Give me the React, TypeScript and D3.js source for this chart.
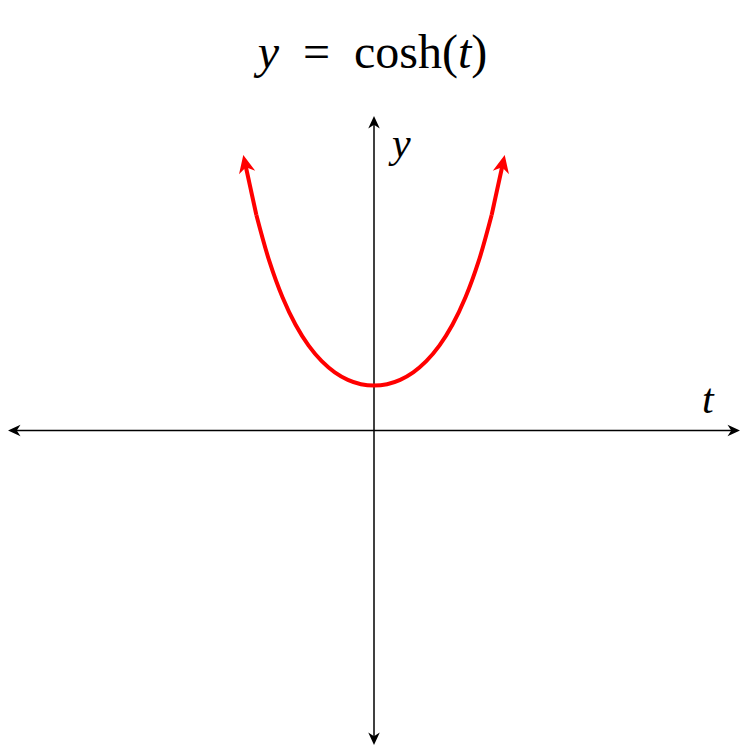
import React, { useEffect, useRef } from "react";
import * as d3 from "d3";

const tValues = [-2.5, -2.25, -2, -1.75, -1.5, -1.25, -1, -0.75, -0.5, -0.25, 0, 0.25, 0.5, 0.75, 1, 1.25, 1.5, 1.75, 2, 2.25, 2.5];
const yValues = [6.132, 4.797, 3.762, 2.964, 2.352, 1.888, 1.543, 1.295, 1.128, 1.031, 1, 1.031, 1.128, 1.295, 1.543, 1.888, 2.352, 2.964, 3.762, 4.797, 6.132];
const xDomain = [-7, 7];
const yDomain = [-7, 7];
const axisLabels = { x: "t", y: "y" };

const App = () => {
  const svgRef = useRef(null);
  useEffect(() => {
    const svg = d3.select(svgRef.current);
    svg.selectAll("*").remove();
    const width = 747;
    const xScale = d3.scaleLinear().domain(xDomain).range([8, 740]);
    const yScale = d3.scaleLinear().domain(yDomain).range([745, 116]);

    // arrow head with tip at (x, y) pointing away from (px, py)
    const arrowHead = (x, y, px, py, color, size) => {
      const angle = (Math.atan2(y - py, x - px) * 180) / Math.PI;
      svg.append("path")
        .attr("d", `M0,0 L${-10 * size},${-4.6 * size} L${-7 * size},0 L${-10 * size},${4.6 * size} Z`)
        .attr("fill", color)
        .attr("transform", `translate(${x},${y}) rotate(${angle})`);
    };

    // axes
    const x0 = xScale(0);
    const y0 = yScale(0);
    svg.append("line")
      .attr("x1", xScale(xDomain[0]) + 4)
      .attr("x2", xScale(xDomain[1]) - 4)
      .attr("y1", y0)
      .attr("y2", y0)
      .attr("stroke", "black")
      .attr("stroke-width", 1.5);
    svg.append("line")
      .attr("x1", x0)
      .attr("x2", x0)
      .attr("y1", yScale(yDomain[0]) - 4)
      .attr("y2", yScale(yDomain[1]) + 4)
      .attr("stroke", "black")
      .attr("stroke-width", 1.5);
    arrowHead(xScale(xDomain[0]), y0, x0, y0, "black", 1.25);
    arrowHead(xScale(xDomain[1]), y0, x0, y0, "black", 1.25);
    arrowHead(x0, yScale(yDomain[0]), x0, y0, "black", 1.25);
    arrowHead(x0, yScale(yDomain[1]), x0, y0, "black", 1.25);

    // curve
    const points = tValues.map((t, i) => [t, yValues[i]]);
    const line = d3.line()
      .x((d) => xScale(d[0]))
      .y((d) => yScale(d[1]))
      .curve(d3.curveCatmullRom);
    svg.append("path")
      .datum(points.slice(1, -1))
      .attr("d", line)
      .attr("fill", "none")
      .attr("stroke", "red")
      .attr("stroke-width", 4);
    // last segments shortened under the arrow heads
    const n = points.length;
    const ends = [
      [points[0], points[1]],
      [points[n - 1], points[n - 2]],
    ];
    ends.forEach(([tip, prev]) => {
      const tx = xScale(tip[0]);
      const ty = yScale(tip[1]);
      const px = xScale(prev[0]);
      const py = yScale(prev[1]);
      const len = Math.hypot(tx - px, ty - py);
      const k = (len - 10) / len;
      svg.append("line")
        .attr("x1", px)
        .attr("y1", py)
        .attr("x2", px + (tx - px) * k)
        .attr("y2", py + (ty - py) * k)
        .attr("stroke", "red")
        .attr("stroke-width", 4);
      arrowHead(tx, ty, px, py, "red", 1.8);
    });

    // axis labels
    svg.append("text")
      .attr("x", xScale(xDomain[1]) - 38)
      .attr("y", y0 - 18)
      .attr("font-family", "Liberation Serif")
      .attr("font-style", "italic")
      .attr("font-size", 42)
      .text(axisLabels.x);
    svg.append("text")
      .attr("x", x0 + 18)
      .attr("y", yScale(yDomain[1]) + 41)
      .attr("font-family", "Liberation Serif")
      .attr("font-style", "italic")
      .attr("font-size", 42)
      .text(axisLabels.y);

    // title
    const title = svg.append("text")
      .attr("x", width / 2 - 1)
      .attr("y", 68)
      .attr("text-anchor", "middle")
      .attr("font-family", "Liberation Serif")
      .attr("font-size", 48);
    title.append("tspan").attr("font-style", "italic").text("y");
    title.append("tspan").text("\u2002=\u2002cosh(");
    title.append("tspan").attr("font-style", "italic").text("t");
    title.append("tspan").text(")");
  }, []);
  return (
    <svg
      ref={svgRef}
      width={747}
      height={754}
      style={{ position: "absolute", left: 0, top: 0, background: "white" }}
    ></svg>
  );
};

export default App;
